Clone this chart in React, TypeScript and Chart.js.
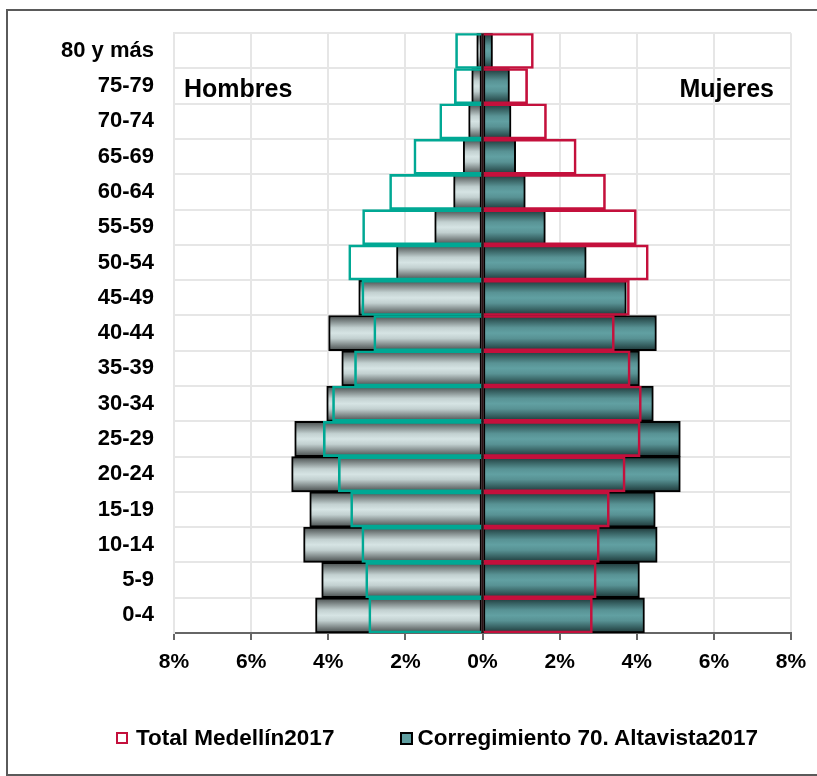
import React, { useEffect, useRef } from "react";
import { Chart, registerables } from "chart.js";

Chart.register(...registerables);

const ageGroups = [
  "80 y más", "75-79", "70-74", "65-69", "60-64", "55-59", "50-54", "45-49", "40-44",
  "35-39", "30-34", "25-29", "20-24", "15-19", "10-14", "5-9", "0-4",
];
// Corregimiento 70. Altavista 2017 (% of population)
const altavistaMen = [0.15, 0.28, 0.36, 0.5, 0.75, 1.24, 2.23, 3.21, 3.99, 3.65, 4.04, 4.87, 4.95, 4.48, 4.64, 4.17, 4.33];
const altavistaWomen = [0.26, 0.7, 0.74, 0.86, 1.11, 1.63, 2.69, 3.73, 4.51, 4.07, 4.43, 5.13, 5.13, 4.48, 4.53, 4.07, 4.2];
// Total Medellín 2017 (% of population)
const medellinMen = [0.7, 0.73, 1.11, 1.78, 2.41, 3.11, 3.47, 3.13, 2.82, 3.32, 3.89, 4.13, 3.74, 3.42, 3.13, 3.03, 2.95];
const medellinWomen = [1.32, 1.17, 1.66, 2.43, 3.19, 3.99, 4.3, 3.81, 3.42, 3.83, 4.12, 4.09, 3.7, 3.29, 3.03, 2.95, 2.85];

const xMin = -8;
const xMax = 8;
const xStep = 2;
const seriesNames = ["Total Medellín2017", "Corregimiento 70. Altavista2017"];

const FONT = '"Liberation Sans", Arial, sans-serif';
const MEN_OUTLINE = "#00a894";
const WOMEN_OUTLINE = "#c4103c";

function bandGradient(ctx: any, stops: [number, string][], fallback: string) {
  if (ctx.type !== "data") return fallback;
  const chart = ctx.chart;
  const y = chart.scales && chart.scales.y;
  if (!y || !chart.chartArea) return fallback;
  const c = y.getPixelForValue(ctx.dataIndex);
  const half = y.height / ageGroups.length / 2;
  const g = chart.ctx.createLinearGradient(0, c - half, 0, c + half);
  stops.forEach(([p, col]) => g.addColorStop(p, col));
  return g;
}

const MEN_STOPS: [number, string][] = [
  [0, "#454b4b"],
  [0.15, "#7a8383"],
  [0.35, "#c2d0d0"],
  [0.5, "#d6e4e4"],
  [0.65, "#c2d0d0"],
  [0.85, "#7a8383"],
  [1, "#454b4b"],
];
const WOMEN_STOPS: [number, string][] = [
  [0, "#1d3536"],
  [0.15, "#355e5f"],
  [0.35, "#589294"],
  [0.5, "#61a0a2"],
  [0.65, "#589294"],
  [0.85, "#355e5f"],
  [1, "#1d3536"],
];

const centerLine = {
  id: "centerLine",
  afterDatasetsDraw(chart: any) {
    const { ctx, chartArea, scales } = chart;
    const x0 = scales.x.getPixelForValue(0);
    ctx.save();
    ctx.strokeStyle = "#2a1216";
    ctx.lineWidth = 2;
    ctx.beginPath();
    ctx.moveTo(x0, chartArea.top);
    ctx.lineTo(x0, chartArea.bottom);
    ctx.stroke();
    ctx.restore();
  },
};

const sideLabels = {
  id: "sideLabels",
  afterDraw(chart: any) {
    const { ctx, chartArea, scales } = chart;
    const yy = scales.y.getPixelForValue(1) + 4;
    ctx.save();
    ctx.font = `bold 25px ${FONT}`;
    ctx.fillStyle = "#000";
    ctx.textBaseline = "middle";
    ctx.textAlign = "left";
    ctx.fillText("Hombres", chartArea.left + 10, yy);
    ctx.textAlign = "right";
    ctx.fillText("Mujeres", chartArea.right - 17, yy);
    ctx.restore();
  },
};

export default function App() {
  const ref = useRef<HTMLCanvasElement | null>(null);

  useEffect(() => {
    if (!ref.current) return;
    const common = {
      barPercentage: 1,
      categoryPercentage: 1,
      grouped: false,
    };
    const chart = new Chart(ref.current, {
      type: "bar",
      data: {
        labels: ageGroups,
        datasets: [
          {
            label: seriesNames[0] + " Hombres",
            data: medellinMen.map((v) => -v),
            backgroundColor: "rgba(0,0,0,0)",
            borderColor: MEN_OUTLINE,
            borderWidth: 2,
            borderSkipped: "start",
            order: 0,
            ...common,
          },
          {
            label: seriesNames[0] + " Mujeres",
            data: medellinWomen,
            backgroundColor: "rgba(0,0,0,0)",
            borderColor: WOMEN_OUTLINE,
            borderWidth: 2,
            borderSkipped: "start",
            order: 0,
            ...common,
          },
          {
            label: seriesNames[1] + " Hombres",
            data: altavistaMen.map((v) => -v),
            backgroundColor: (c: any) => bandGradient(c, MEN_STOPS, "#d6e4e4"),
            borderColor: "#000",
            borderWidth: 2,
            borderSkipped: false,
            order: 1,
            ...common,
          },
          {
            label: seriesNames[1] + " Mujeres",
            data: altavistaWomen,
            backgroundColor: (c: any) => bandGradient(c, WOMEN_STOPS, "#5f9ea0"),
            borderColor: "#000",
            borderWidth: 2,
            borderSkipped: false,
            order: 1,
            ...common,
          },
        ],
      },
      options: {
        indexAxis: "y",
        responsive: false,
        animation: false,
        devicePixelRatio: 1,
        layout: { padding: { top: 22, right: 26, bottom: 93, left: 0 } },
        plugins: {
          legend: { display: false },
          tooltip: { enabled: false },
        },
        scales: {
          x: {
            min: xMin,
            max: xMax,
            ticks: {
              stepSize: xStep,
              callback: (v: any) => Math.abs(Number(v)) + "%",
              font: { family: FONT, size: 21, weight: "bold" },
              color: "#000",
              padding: 10,
            },
            grid: { color: "#e6e6e6", lineWidth: 2, tickColor: "#666", tickLength: 7 },
            border: { color: "#666", width: 2 },
            afterFit: (s: any) => {
              s.height = 50;
            },
          },
          y: {
            grid: { color: "#e6e6e6", lineWidth: 2, drawTicks: false, tickLength: 0 },
            border: { color: "#e6e6e6", width: 2 },
            ticks: {
              font: { family: FONT, size: 22, weight: "bold" },
              color: "#000",
              padding: 20,
            },
            afterFit: (s: any) => {
              s.width = 174;
            },
          },
        },
      },
      plugins: [centerLine, sideLabels],
    });
    return () => chart.destroy();
  }, []);

  const legendText: React.CSSProperties = {
    font: `bold 22.5px ${FONT}`,
    color: "#000",
    whiteSpace: "nowrap",
  };

  return (
    <div style={{ position: "absolute", left: 0, top: 0, width: 817, height: 776, overflow: "hidden", background: "#fff" }}>
      <div
        style={{
          position: "absolute",
          left: 6,
          top: 9,
          width: 820,
          height: 767,
          border: "2px solid #5a5a5a",
          boxSizing: "border-box",
        }}
      />
      <canvas ref={ref} width={817} height={776} style={{ position: "absolute", left: 0, top: 0 }} />
      <div style={{ position: "absolute", left: 116, top: 725, display: "flex", alignItems: "center", height: 26 }}>
        <span style={{ width: 12, height: 12, border: `2px solid ${WOMEN_OUTLINE}`, boxSizing: "border-box", background: "#fff", marginRight: 8 }} />
        <span style={legendText}>{seriesNames[0]}</span>
        <span
          style={{
            width: 13,
            height: 13,
            border: "2px solid #000",
            boxSizing: "border-box",
            background: "#5f9ea0",
            marginLeft: 66,
            marginRight: 4,
          }}
        />
        <span style={legendText}>{seriesNames[1]}</span>
      </div>
    </div>
  );
}
